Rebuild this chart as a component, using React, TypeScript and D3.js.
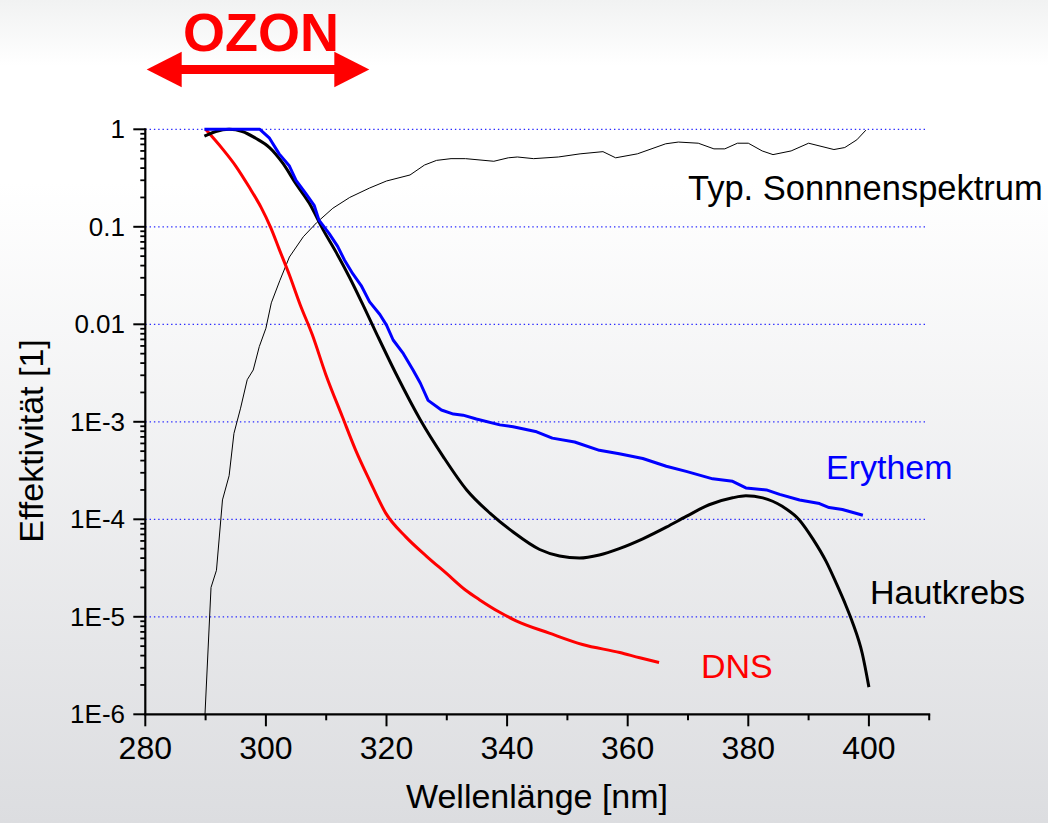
import React from "react";
import * as d3 from "d3";

// ---- Data (wavelength nm, effectiveness) ----
const sunLambda = [289.9, 290.9, 291.8, 292.8, 293.9, 294.7, 295.8, 296.9, 297.9, 298.9, 300.0, 300.9, 302.3, 303.9, 306.2, 308.4, 311.1, 313.9, 317.2, 320.0, 323.9, 326.3, 328.3, 330.7, 333.1, 337.8, 340.2, 341.7, 344.4, 348.5, 352.1, 355.9, 358.0, 361.6, 366.3, 368.4, 371.7, 374.3, 376.1, 378.2, 380.0, 382.3, 384.1, 387.1, 390.0, 394.2, 396.0, 398.0, 399.5];
const sunValue = [1e-6, 2.0e-5, 3.0e-5, 1.58e-4, 2.8e-4, 7.6e-4, 1.38e-3, 2.7e-3, 3.4e-3, 5.9e-3, 9.1e-3, 0.0166, 0.028, 0.049, 0.079, 0.11, 0.155, 0.2, 0.25, 0.295, 0.34, 0.43, 0.48, 0.5, 0.5, 0.47, 0.51, 0.52, 0.5, 0.52, 0.56, 0.59, 0.51, 0.56, 0.71, 0.74, 0.72, 0.63, 0.63, 0.72, 0.72, 0.6, 0.55, 0.6, 0.72, 0.62, 0.65, 0.78, 0.98];

const eryLambda = [289.8, 299.0, 300.6, 302.2, 303.9, 305.0, 306.6, 308.0, 308.8, 310.5, 311.9, 313.0, 314.4, 315.8, 317.2, 318.9, 320.0, 321.1, 322.8, 324.4, 325.6, 326.9, 329.1, 331.1, 332.7, 334.9, 338.8, 341.0, 344.9, 347.5, 351.2, 355.3, 358.6, 362.5, 366.4, 369.7, 374.1, 377.4, 379.6, 383.0, 385.2, 388.5, 391.8, 393.4, 395.6, 399.0];
const eryValue = [1, 1, 0.81, 0.56, 0.42, 0.3, 0.22, 0.166, 0.117, 0.085, 0.063, 0.046, 0.033, 0.025, 0.017, 0.0126, 0.0098, 0.0069, 0.005, 0.0034, 0.0025, 0.00166, 0.00132, 0.0012, 0.00117, 0.00107, 9.3e-4, 8.9e-4, 7.9e-4, 6.8e-4, 6.2e-4, 5.1e-4, 4.7e-4, 4.2e-4, 3.5e-4, 3.1e-4, 2.6e-4, 2.45e-4, 2.1e-4, 2.0e-4, 1.8e-4, 1.58e-4, 1.45e-4, 1.32e-4, 1.26e-4, 1.1e-4];

const skinLambda = [289.8, 291.7, 293.9, 296.1, 298.3, 300.6, 302.8, 305.0, 307.2, 309.5, 311.7, 313.9, 316.1, 318.4, 321.7, 325.6, 329.4, 333.3, 337.2, 341.0, 345.4, 348.7, 352.0, 355.3, 358.6, 362.5, 366.4, 369.7, 373.5, 377.4, 379.6, 382.4, 385.7, 388.5, 390.7, 392.9, 394.6, 396.2, 397.3, 398.9, 400.0];
const skinValue = [0.85, 0.95, 1, 0.95, 0.81, 0.65, 0.45, 0.275, 0.174, 0.093, 0.054, 0.030, 0.0158, 0.0079, 0.0030, 0.00105, 4.4e-4, 2.0e-4, 1.15e-4, 7.4e-5, 4.9e-5, 4.2e-5, 4.0e-5, 4.3e-5, 5.0e-5, 6.3e-5, 8.3e-5, 1.07e-4, 1.41e-4, 1.66e-4, 1.74e-4, 1.66e-4, 1.35e-4, 9.8e-5, 6.3e-5, 3.7e-5, 2.2e-5, 1.3e-5, 8.7e-6, 4.2e-6, 1.9e-6];

const dnaLambda = [290.0, 292.8, 295.0, 297.2, 299.2, 300.8, 302.2, 303.9, 305.7, 307.7, 309.9, 312.7, 314.9, 317.2, 319.9, 323.2, 326.6, 329.9, 333.2, 335.4, 338.7, 341.5, 347.0, 352.5, 358.7, 362.0, 365.2];
const dnaValue = [1, 0.63, 0.42, 0.257, 0.158, 0.098, 0.059, 0.032, 0.0158, 0.0078, 0.0031, 0.00112, 5.1e-4, 2.5e-4, 1.15e-4, 6.6e-5, 4.2e-5, 2.8e-5, 1.86e-5, 1.5e-5, 1.12e-5, 9.1e-6, 6.8e-6, 5.2e-6, 4.3e-6, 3.8e-6, 3.4e-6];

const xMajorTicks = [280, 300, 320, 340, 360, 380, 400];
const xMinorTicks = [290, 310, 330, 350, 370, 390, 410];
const yMajorTicks = [1, 0.1, 0.01, 1e-3, 1e-4, 1e-5, 1e-6];
const yTickLabels = ["1", "0.1", "0.01", "1E-3", "1E-4", "1E-5", "1E-6"];
const yGridValues = [1, 0.1, 0.01, 1e-3, 1e-4, 1e-5];

const FONT = "'Liberation Sans', Arial, Helvetica, sans-serif";

export default function App() {
  const x = d3.scaleLinear().domain([280, 410]).range([145.3, 929.2]);
  const y = d3.scaleLog().domain([1e-6, 1]).range([714.3, 129.3]);

  const line = d3
    .line<[number, number]>()
    .x((d) => x(d[0]))
    .y((d) => y(d[1]));
  const smooth = d3
    .line<[number, number]>()
    .x((d) => x(d[0]))
    .y((d) => y(d[1]))
    .curve(d3.curveMonotoneX);

  const zip = (a: number[], b: number[]) => a.map((v, i) => [v, b[i]] as [number, number]);

  const yMinor: number[] = [];
  for (let e = -6; e < 0; e++) {
    for (let m = 2; m <= 9; m++) yMinor.push(m * Math.pow(10, e));
  }

  const x0 = x(280);
  const axisY = y(1e-6);

  return (
    <svg
      width={1048}
      height={823}
      style={{ position: "absolute", left: 0, top: 0 }}
      fontFamily={FONT}
    >
      <defs>
        <linearGradient id="bg" x1="0" y1="0" x2="0" y2="1">
          <stop offset="0" stopColor="#f1f2f2" />
          <stop offset="0.08" stopColor="#ffffff" />
          <stop offset="0.22" stopColor="#ffffff" />
          <stop offset="1" stopColor="#dcdde0" />
        </linearGradient>
      </defs>
      <rect x={0} y={0} width={1048} height={823} fill="url(#bg)" />

      {/* grid */}
      {yGridValues.map((v) => (
        <line
          key={"g" + v}
          x1={x0}
          x2={927}
          y1={y(v)}
          y2={y(v)}
          stroke="#2a2aff"
          strokeWidth={1.2}
          strokeDasharray="1.4 2.9"
        />
      ))}

      {/* curves */}
      <path d={line(zip(sunLambda, sunValue)) || ""} fill="none" stroke="#000" strokeWidth={1} />
      <path d={smooth(zip(dnaLambda, dnaValue)) || ""} fill="none" stroke="#ff0000" strokeWidth={3} strokeLinejoin="round" />
      <path d={smooth(zip(skinLambda, skinValue)) || ""} fill="none" stroke="#000" strokeWidth={3} strokeLinejoin="round" />
      <path d={line(zip(eryLambda, eryValue)) || ""} fill="none" stroke="#0000ff" strokeWidth={3} strokeLinejoin="round" />

      {/* x axis */}
      <line x1={x0 - 1} x2={x(410) + 1} y1={axisY} y2={axisY} stroke="#000" strokeWidth={2.2} />
      {xMajorTicks.map((t) => (
        <g key={"xm" + t}>
          <line x1={x(t)} x2={x(t)} y1={axisY} y2={axisY + 12} stroke="#000" strokeWidth={2} />
          <text x={x(t)} y={759} fontSize={32} textAnchor="middle" fill="#000">
            {t}
          </text>
        </g>
      ))}
      {xMinorTicks.map((t) => (
        <line key={"xn" + t} x1={x(t)} x2={x(t)} y1={axisY} y2={axisY + 6} stroke="#000" strokeWidth={2} />
      ))}

      {/* y axis */}
      <line x1={x0} x2={x0} y1={y(1) - 1} y2={axisY + 1} stroke="#000" strokeWidth={2.2} />
      {yMajorTicks.map((t, i) => (
        <g key={"ym" + i}>
          <line x1={x0 - 12} x2={x0} y1={y(t)} y2={y(t)} stroke="#000" strokeWidth={2} />
          <text x={125} y={y(t) + 8.8} fontSize={26} textAnchor="end" fill="#000">
            {yTickLabels[i]}
          </text>
        </g>
      ))}
      {yMinor.map((t, i) => (
        <line key={"yn" + i} x1={x0 - 5} x2={x0} y1={y(t)} y2={y(t)} stroke="#000" strokeWidth={1.8} />
      ))}

      {/* axis titles */}
      <text x={537} y={808} fontSize={34} textAnchor="middle" fill="#000">
        Wellenlänge [nm]
      </text>
      <text
        transform={`translate(43,441) rotate(-90)`}
        fontSize={34}
        textAnchor="middle"
        fill="#000"
      >
        Effektivität [1]
      </text>

      {/* series labels */}
      <text x={688} y={200} fontSize={34.5} fill="#000">Typ. Sonnnenspektrum</text>
      <text x={826} y={479} fontSize={34} fill="#0000ff">Erythem</text>
      <text x={870} y={604} fontSize={34} fill="#000">Hautkrebs</text>
      <text x={701} y={678} fontSize={34} fill="#ff0000">DNS</text>

      {/* OZON */}
      <text x={183} y={51} fontSize={54} fontWeight="bold" fill="#ff0000">OZON</text>
      <rect x={181} y={65} width={154} height={9} fill="#ff0000" />
      <polygon points="146.7,69.5 181.7,51.7 181.7,87.3" fill="#ff0000" />
      <polygon points="369.3,69.5 334.3,51.7 334.3,87.3" fill="#ff0000" />
    </svg>
  );
}
